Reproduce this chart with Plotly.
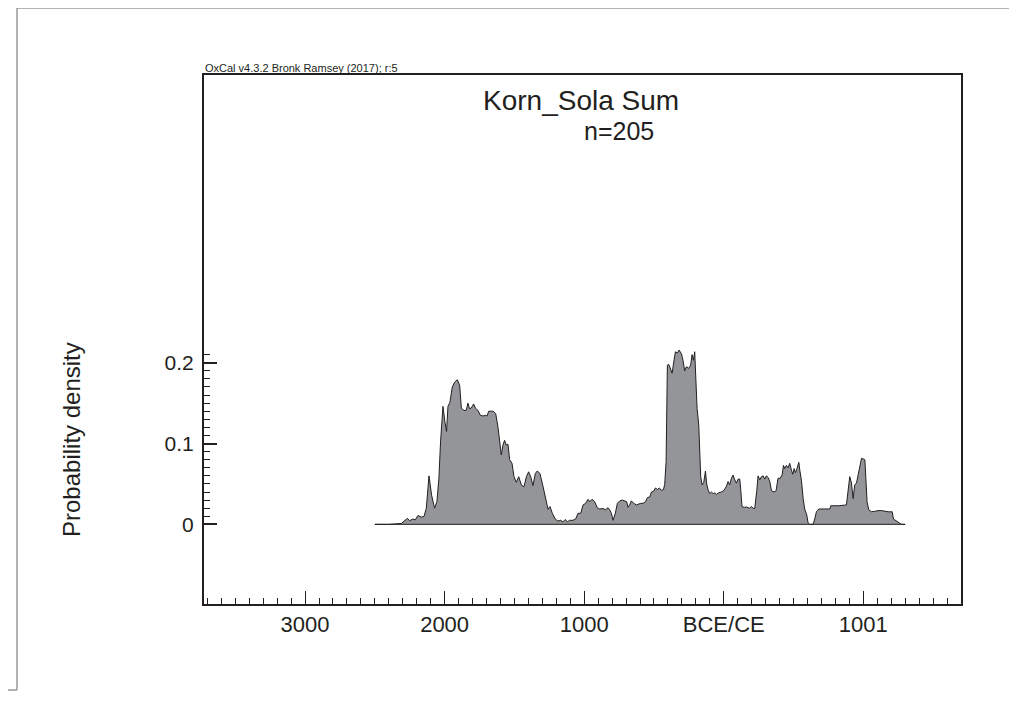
import plotly.graph_objects as go

# ---- data (calendar year, negative = BCE) ----
years = [
    -2500, -2400, -2310, -2287, -2267, -2251, -2227, -2210, -2191, -2167,
    -2148, -2131, -2112, -2093, -2072, -2055, -2041, -2029, -2012, -1998,
    -1986, -1976, -1962, -1945, -1928, -1909, -1892, -1880, -1861, -1845,
    -1833, -1821, -1809, -1792, -1778, -1761, -1744, -1725, -1708, -1696,
    -1684, -1653, -1634, -1618, -1606, -1594, -1582, -1570, -1558, -1546,
    -1534, -1517, -1503, -1486, -1469, -1450, -1431, -1414, -1398, -1383,
    -1367, -1350, -1336, -1317, -1295, -1278, -1259, -1245, -1228, -1207,
    -1188, -1168, -1152, -1135, -1121, -1104, -1080, -1061, -1044, -1025,
    -1008, -989, -972, -960, -944, -925, -906, -889, -865, -848,
    -829, -817, -805, -793, -777, -762, -745, -726, -710, -695,
    -686, -674, -662, -645, -626, -609, -595, -578, -561, -547,
    -530, -518, -502, -490, -475, -461, -447, -432, -423, -413,
    -404, -394, -382, -370, -358, -346, -332, -320, -303, -292,
    -280, -268, -251, -237, -227, -217, -208, -201, -191, -179,
    -172, -165, -155, -143, -131, -122, -112, -100, -88, -76,
    -65, -53, -36, -17, 2, 19, 31, 43, 55, 67,
    79, 91, 103, 115, 122, 131, 151, 162, 186, 198,
    210, 222, 237, 246, 258, 270, 282, 294, 306, 318,
    330, 342, 361, 375, 389, 404, 418, 428, 437, 449,
    461, 473, 485, 495, 504, 514, 523, 538, 545, 557,
    569, 580, 595, 604, 616, 640, 652, 664, 681, 724,
    760, 767, 820, 879, 891, 903, 915, 927, 939, 951,
    963, 975, 987, 999, 1011, 1018, 1027, 1039, 1058, 1082,
    1106, 1130, 1154, 1178, 1197, 1207, 1216, 1230, 1250, 1262,
    1273, 1300,
]

density = [
    0, 0, 0.001, 0.0045, 0.0074, 0.0045, 0.0066, 0.0055, 0.011, 0.009,
    0.0095, 0.02, 0.06, 0.036, 0.02, 0.028, 0.057, 0.102, 0.146, 0.127,
    0.115, 0.146, 0.151, 0.170, 0.176, 0.179, 0.172, 0.1435, 0.141, 0.141,
    0.150, 0.143, 0.144, 0.149, 0.1435, 0.141, 0.135, 0.134, 0.135, 0.134,
    0.140, 0.140, 0.137, 0.121, 0.102, 0.086, 0.098, 0.104, 0.098, 0.099,
    0.080, 0.0755, 0.059, 0.052, 0.059, 0.0487, 0.0465, 0.059, 0.065, 0.059,
    0.048, 0.063, 0.066, 0.063, 0.047, 0.032, 0.0186, 0.022, 0.0136, 0.0066,
    0.004, 0.005, 0.003, 0.006, 0.003, 0.005, 0.005, 0.0066, 0.0136, 0.0136,
    0.024, 0.026, 0.031, 0.028, 0.031, 0.028, 0.0206, 0.019, 0.0195, 0.018,
    0.0206, 0.018, 0.0136, 0.005, 0.0136, 0.026, 0.029, 0.030, 0.029, 0.028,
    0.021, 0.024, 0.029, 0.026, 0.024, 0.025, 0.026, 0.026, 0.028, 0.033,
    0.034, 0.040, 0.041, 0.045, 0.043, 0.045, 0.042, 0.043, 0.0495, 0.0775,
    0.197, 0.198, 0.193, 0.187, 0.201, 0.2136, 0.212, 0.2157, 0.211, 0.203,
    0.190, 0.195, 0.193, 0.197, 0.210, 0.203, 0.2136, 0.181, 0.1435, 0.123,
    0.086, 0.059, 0.0487, 0.052, 0.066, 0.050, 0.0425, 0.038, 0.040, 0.038,
    0.039, 0.037, 0.039, 0.040, 0.042, 0.047, 0.053, 0.049, 0.057, 0.061,
    0.055, 0.051, 0.056, 0.056, 0.042, 0.0218, 0.021, 0.0215, 0.020, 0.022,
    0.020, 0.0195, 0.042, 0.060, 0.055, 0.059, 0.060, 0.056, 0.060, 0.058,
    0.053, 0.0416, 0.040, 0.0416, 0.057, 0.057, 0.061, 0.073, 0.069, 0.073,
    0.070, 0.0755, 0.067, 0.062, 0.069, 0.064, 0.068, 0.0767, 0.067, 0.054,
    0.032, 0.019, 0.0115, 0.002, 0, 0, 0.0066, 0.0156, 0.019, 0.019,
    0.019, 0.023, 0.023, 0.024, 0.040, 0.059, 0.051, 0.032, 0.049, 0.051,
    0.061, 0.0713, 0.0817, 0.081, 0.080, 0.058, 0.028, 0.018, 0.0156, 0.016,
    0.017, 0.017, 0.016, 0.0155, 0.0155, 0.0156, 0.0066, 0.005, 0.003, 0.001,
    0, 0,
]

x_tickvals = [-3000, -2000, -1000, 0, 1000]
x_ticktext = ["3000", "2000", "1000", "BCE/CE", "1001"]
y_tickvals = [0, 0.1, 0.2]
y_ticktext = ["0", "0.1", "0.2"]
y_minor_vals = [i / 100 for i in range(1, 22) if i % 10 != 0]

title_text = "Korn_Sola Sum"
n_text = "n=205"
credit_text = "OxCal v4.3.2 Bronk Ramsey (2017); r:5"
y_label = "Probability density"

FONT = "Liberation Sans, Arial, Helvetica, sans-serif"
INK = "#231f20"

fig = go.Figure()
fig.add_trace(go.Scatter(
    x=years, y=density, mode="lines",
    fill="tozeroy", fillcolor="#939598",
    line=dict(color="#231f20", width=1), hoverinfo="skip", showlegend=False,
))
fig.add_trace(go.Scatter(
    x=[years[0], years[-1]], y=[0, 0], mode="lines",
    line=dict(color="#231f20", width=1), hoverinfo="skip", showlegend=False,
))

# the page body adds an 8px offset; compensate so the frame lands where the reference has it
OFF = 8
W, H = 1017, 708
L, R, T, B = 204 - OFF, 56 + OFF, 75 - OFF, 104 + OFF
pw, ph = W - L - R, H - T - B


def px(xp):
    return (xp - OFF - L) / pw


def py(yp):
    return (H - B - (yp - OFF)) / ph


fig.update_layout(
    width=W, height=H,
    margin=dict(l=L, r=R, t=T, b=B, pad=0),
    paper_bgcolor="white", plot_bgcolor="white",
    font=dict(family=FONT, color=INK),
    xaxis=dict(
        range=[-3724, 1700], showgrid=False, zeroline=False,
        showline=True, linecolor=INK, linewidth=2, mirror=True,
        tickmode="array", tickvals=x_tickvals, ticktext=x_ticktext,
        ticks="inside", ticklen=13, tickwidth=1, tickcolor=INK,
        tickfont=dict(size=22, color=INK),
        minor=dict(tickmode="linear", tick0=0, dtick=100, ticks="inside",
                   ticklen=6, tickwidth=1, tickcolor=INK, showgrid=False),
    ),
    yaxis=dict(
        range=[-0.0986, 0.5561], showgrid=False, zeroline=False,
        showline=True, linecolor=INK, linewidth=2, mirror=True,
        tickmode="array", tickvals=y_tickvals, ticktext=y_ticktext,
        ticks="inside", ticklen=13, tickwidth=2, tickcolor=INK,
        tickfont=dict(size=21, color=INK), ticklabelstandoff=4,
        minor=dict(tickmode="array", tickvals=y_minor_vals, ticks="inside",
                   ticklen=6, tickwidth=1, tickcolor=INK, showgrid=False),
    ),
    annotations=[
        dict(text=title_text, x=px(581), y=py(100), xref="paper", yref="paper",
             showarrow=False, font=dict(size=28, color=INK),
             xanchor="center", yanchor="middle"),
        dict(text=n_text, x=px(619), y=py(131), xref="paper", yref="paper",
             showarrow=False, font=dict(size=25, color=INK),
             xanchor="center", yanchor="middle"),
        dict(text=credit_text, x=px(203), y=py(68), xref="paper", yref="paper",
             showarrow=False, font=dict(size=11, color=INK),
             xanchor="left", yanchor="middle"),
        dict(text=y_label, x=px(72), y=py(440), xref="paper", yref="paper",
             showarrow=False, font=dict(size=24, color=INK), textangle=-90,
             xanchor="center", yanchor="middle"),
    ],
    shapes=[
        dict(type="line", xref="paper", yref="paper",
             x0=px(17), x1=px(W + 5), y0=py(8), y1=py(8),
             line=dict(color="#9a9a9a", width=1.5)),
        dict(type="line", xref="paper", yref="paper",
             x0=px(17), x1=px(17), y0=py(8), y1=py(690),
             line=dict(color="#9a9a9a", width=1.5)),
        dict(type="line", xref="paper", yref="paper",
             x0=px(-5), x1=px(17), y0=py(690), y1=py(690),
             line=dict(color="#9a9a9a", width=1.5)),
    ],
)

fig.write_html("out.html")
